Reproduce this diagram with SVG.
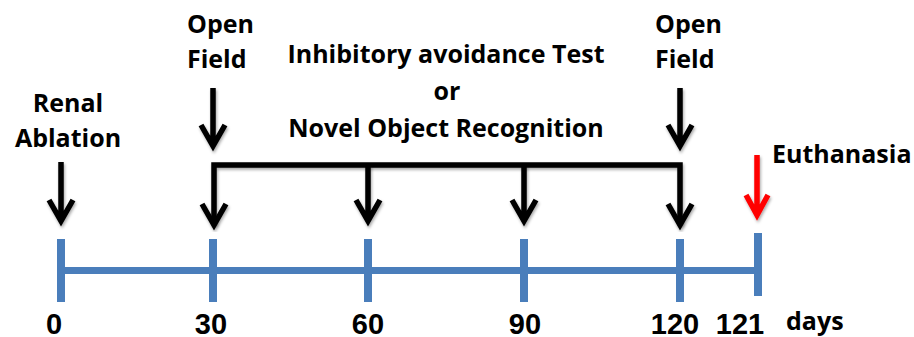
<svg xmlns="http://www.w3.org/2000/svg" width="914" height="337" viewBox="0 0 914 337">
<style>
.lbl{font-family:"Open Sans","Liberation Sans",sans-serif;font-weight:700;font-size:25px;fill:#000}
.num{font-family:"Liberation Sans",Arial,sans-serif;font-weight:700;font-size:29px;fill:#000}
.days{font-family:"Open Sans","Liberation Sans",sans-serif;font-weight:700;font-size:25px;fill:#000}
.arr{fill:none;stroke:#000;stroke-width:5.5;stroke-linejoin:miter;filter:url(#sh)}
.red{stroke:#ff0000}
.axis{fill:#4a7ebb}
</style>
<defs>
<filter id="sh" x="-50%" y="-20%" width="200%" height="150%">
<feDropShadow dx="1" dy="2" stdDeviation="1.5" flood-color="#000" flood-opacity="0.35"/>
</filter>
</defs>
<rect width="914" height="337" fill="#fff"/>
<g id="timeline">
<rect class="axis" x="61" y="267" width="697" height="7"/>
<rect class="axis" x="57" y="239" width="8" height="63"/>
<rect class="axis" x="209" y="239" width="8" height="63"/>
<rect class="axis" x="364" y="239" width="8" height="63"/>
<rect class="axis" x="520" y="239" width="8" height="63"/>
<rect class="axis" x="676" y="239" width="8" height="63"/>
<rect class="axis" x="754" y="233" width="8" height="63"/>
</g>
<g id="labels-days">
<text class="num" x="54" y="334" text-anchor="middle">0</text>
<text class="num" x="211" y="334" text-anchor="middle">30</text>
<text class="num" x="368" y="334" text-anchor="middle">60</text>
<text class="num" x="525" y="334" text-anchor="middle">90</text>
<text class="num" x="675" y="334" text-anchor="middle">120</text>
<text class="num" x="740" y="334" text-anchor="middle">121</text>
<text class="days" x="786" y="330">days</text>
</g>
<g id="renal-ablation">
<text class="lbl" x="68" y="112" text-anchor="middle">Renal</text>
<text class="lbl" x="68" y="147" text-anchor="middle">Ablation</text>
</g>
<g id="open-field-1">
<text class="lbl" x="187" y="33">Open</text>
<text class="lbl" x="187" y="68">Field</text>
</g>
<g id="tests">
<text class="lbl" x="446" y="63" text-anchor="middle">Inhibitory avoidance Test</text>
<text class="lbl" x="447" y="100" text-anchor="middle">or</text>
<text class="lbl" x="446" y="137" text-anchor="middle">Novel Object Recognition</text>
</g>
<g id="open-field-2">
<text class="lbl" x="655" y="33">Open</text>
<text class="lbl" x="655" y="68">Field</text>
</g>
<g id="euthanasia">
<text class="lbl" x="772" y="163">Euthanasia</text>
</g>
<g id="connectors">
<path class="arr" d="M61 162V221M49 200L61 221L73 200"/>
<path class="arr" d="M213 88V146M201 125L213 146L225 125"/>
<path class="arr" d="M680 88V146M668 125L680 146L692 125"/>
<path class="arr" d="M214 225V165H680V225" stroke-width="6"/>
<path class="arr" d="M202 204L214 225L226 204"/>
<path class="arr" d="M668 204L680 225L692 204"/>
<path class="arr" d="M368 165V221M356 200L368 221L380 200"/>
<path class="arr" d="M524 165V221M512 200L524 221L536 200"/>
<path class="arr red" d="M757 155V215M746 195L757 215L768 195"/>
</g>
</svg>
